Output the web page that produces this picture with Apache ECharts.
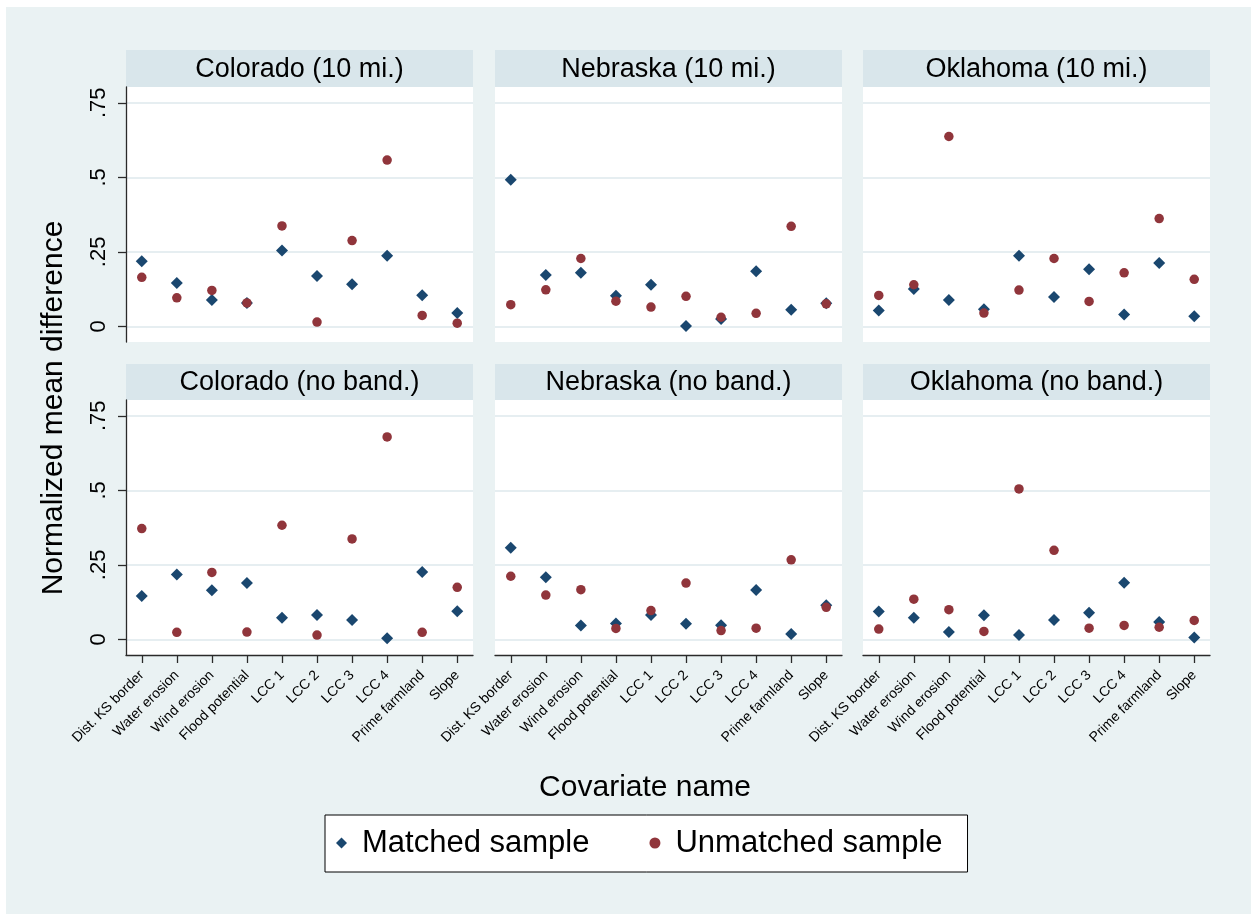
<!DOCTYPE html>
<html><head><meta charset="utf-8">
<script src="https://cdn.jsdelivr.net/npm/echarts@6/dist/echarts.min.js"></script>
<style>
html,body{margin:0;padding:0;background:#fff;}
#bg{position:absolute;left:6px;top:7px;width:1245px;height:907px;background:#eaf2f3;}
#chart{position:absolute;left:0;top:0;width:1251px;height:914px;}
</style></head><body><div id="bg"></div><div id="chart"></div>
<script>
// ---- data ----
const covariates = ["Dist. KS border","Water erosion","Wind erosion","Flood potential","LCC 1","LCC 2","LCC 3","LCC 4","Prime farmland","Slope"];
const panelTitles = ["Colorado (10 mi.)","Nebraska (10 mi.)","Oklahoma (10 mi.)","Colorado (no band.)","Nebraska (no band.)","Oklahoma (no band.)"];
const yTickValues = [0, 0.25, 0.5, 0.75];
const yTickLabels = ["0", ".25", ".5", ".75"];
const seriesNames = ["Matched sample", "Unmatched sample"];

const matchedCO10   = [0.219,0.146,0.089,0.079,0.255,0.169,0.142,0.237,0.105,0.045];
const unmatchedCO10 = [0.165,0.096,0.121,0.079,0.337,0.015,0.288,0.558,0.037,0.011];
const matchedNE10   = [0.492,0.173,0.180,0.103,0.140,0.002,0.025,0.185,0.056,0.078];
const unmatchedNE10 = [0.073,0.123,0.228,0.085,0.065,0.101,0.031,0.044,0.336,0.076];
const matchedOK10   = [0.054,0.126,0.089,0.058,0.237,0.099,0.192,0.040,0.213,0.034];
const unmatchedOK10 = [0.104,0.140,0.637,0.045,0.122,0.228,0.084,0.180,0.362,0.158];
const matchedCONB   = [0.146,0.218,0.165,0.189,0.073,0.082,0.065,0.004,0.226,0.095];
const unmatchedCONB = [0.372,0.024,0.225,0.025,0.383,0.015,0.337,0.679,0.024,0.175];
const matchedNENB   = [0.308,0.209,0.047,0.054,0.082,0.053,0.048,0.166,0.018,0.115];
const unmatchedNENB = [0.212,0.149,0.167,0.037,0.097,0.189,0.030,0.038,0.267,0.108];
const matchedOKNB   = [0.094,0.073,0.025,0.081,0.015,0.065,0.090,0.190,0.059,0.007];
const unmatchedOKNB = [0.035,0.135,0.100,0.027,0.505,0.299,0.038,0.047,0.041,0.064];

const panelMatched   = [matchedCO10, matchedNE10, matchedOK10, matchedCONB, matchedNENB, matchedOKNB];
const panelUnmatched = [unmatchedCO10, unmatchedNE10, unmatchedOK10, unmatchedCONB, unmatchedNENB, unmatchedOKNB];

// ---- layout ----
const FONT = "'Liberation Sans', Arial, sans-serif";
const colLeft = [126, 495, 863];
const rowTop = [87, 400];
const headerTop = [50, 364];
const PW = 347, PH = 255;
const navy = '#1a476f', maroon = '#90353b';
const tickPos = covariates.map((c, i) => i + 1);

const grids = [], xAxes = [], yAxes = [], series = [], graphics = [];
for (let k = 0; k < 6; k++) {
  const r = Math.floor(k / 3), c = k % 3;
  grids.push({left: colLeft[c], top: rowTop[r], width: PW, height: PH, show: true,
              backgroundColor: '#ffffff', borderWidth: 0, containLabel: false});
  const bottom = r === 1;
  xAxes.push({
    type: 'value', gridIndex: k, min: 0.55, max: 10.45,
    axisLine: {show: bottom, onZero: false, lineStyle: {color: '#2a2a2a', width: 1.3}},
    axisTick: {show: bottom, length: 8, customValues: tickPos, lineStyle: {color: '#2a2a2a', width: 1.3}},
    axisLabel: {show: bottom, customValues: tickPos, rotate: 45, margin: 18, fontSize: 14,
                fontFamily: FONT, color: '#000',
                formatter: v => covariates[Math.round(v) - 1] || ''},
    splitLine: {show: false}
  });
  const left = c === 0;
  yAxes.push({
    type: 'value', gridIndex: k, min: -0.052, max: 0.803,
    axisLine: {show: left, onZero: false, lineStyle: {color: '#2a2a2a', width: 1.3}},
    axisTick: {show: left, length: 8, customValues: yTickValues, lineStyle: {color: '#2a2a2a', width: 1.3}},
    axisLabel: {show: left, customValues: yTickValues, rotate: 90, margin: 16, fontSize: 22,
                fontFamily: FONT, color: '#000',
                formatter: v => yTickLabels[yTickValues.findIndex(t => Math.abs(t - v) < 1e-6)] ?? ''},
    splitLine: {show: true, lineStyle: {color: '#e6eef1', width: 2}}
  });
  series.push({
    name: seriesNames[0], type: 'scatter', xAxisIndex: k, yAxisIndex: k,
    symbol: 'diamond', symbolSize: 12, itemStyle: {color: navy, opacity: 1},
    data: panelMatched[k].map((v, i) => [tickPos[i], v]), z: 2
  });
  series.push({
    name: seriesNames[1], type: 'scatter', xAxisIndex: k, yAxisIndex: k,
    symbol: 'circle', symbolSize: 9.5, itemStyle: {color: maroon, opacity: 1},
    data: panelUnmatched[k].map((v, i) => [tickPos[i], v]), z: 3
  });
  graphics.push({type: 'rect', left: colLeft[c], top: headerTop[r],
                 shape: {width: PW, height: rowTop[r] - headerTop[r]},
                 style: {fill: '#d9e6eb'}, silent: true});
  graphics.push({type: 'text', x: colLeft[c] + PW / 2, y: (headerTop[r] + rowTop[r]) / 2 + 1,
                 style: {text: panelTitles[k], fill: '#000', font: '27px ' + FONT,
                         textAlign: 'center', textVerticalAlign: 'middle'}, silent: true});
}
graphics.push({type: 'text', x: 54, y: 408, rotation: Math.PI / 2,
               style: {text: 'Normalized mean difference', fill: '#000', font: '30px ' + FONT,
                       textAlign: 'center', textVerticalAlign: 'middle'}, silent: true});
graphics.push({type: 'text', x: 645, y: 788,
               style: {text: 'Covariate name', fill: '#000', font: '30px ' + FONT,
                       textAlign: 'center', textVerticalAlign: 'middle'}, silent: true});

const chart = echarts.init(document.getElementById('chart'), null, {renderer: 'canvas'});
chart.setOption({
  backgroundColor: 'transparent',
  animation: false,
  grid: grids, xAxis: xAxes, yAxis: yAxes, series: series,
  graphic: graphics,
  legend: {
    data: [{name: seriesNames[0], icon: 'diamond'}, {name: seriesNames[1], icon: 'circle'}],
    left: 325, top: 815, orient: 'horizontal',
    itemWidth: 11, itemHeight: 11, itemGap: 60,
    padding: [11, 25, 12, 11],
    backgroundColor: '#ffffff', borderColor: '#000', borderWidth: 1, borderRadius: 0,
    selectedMode: false,
    textStyle: {fontSize: 31, fontFamily: FONT, color: '#000', lineHeight: 34, padding: [0, 0, 0, 10]}
  }
});
</script></body></html>
